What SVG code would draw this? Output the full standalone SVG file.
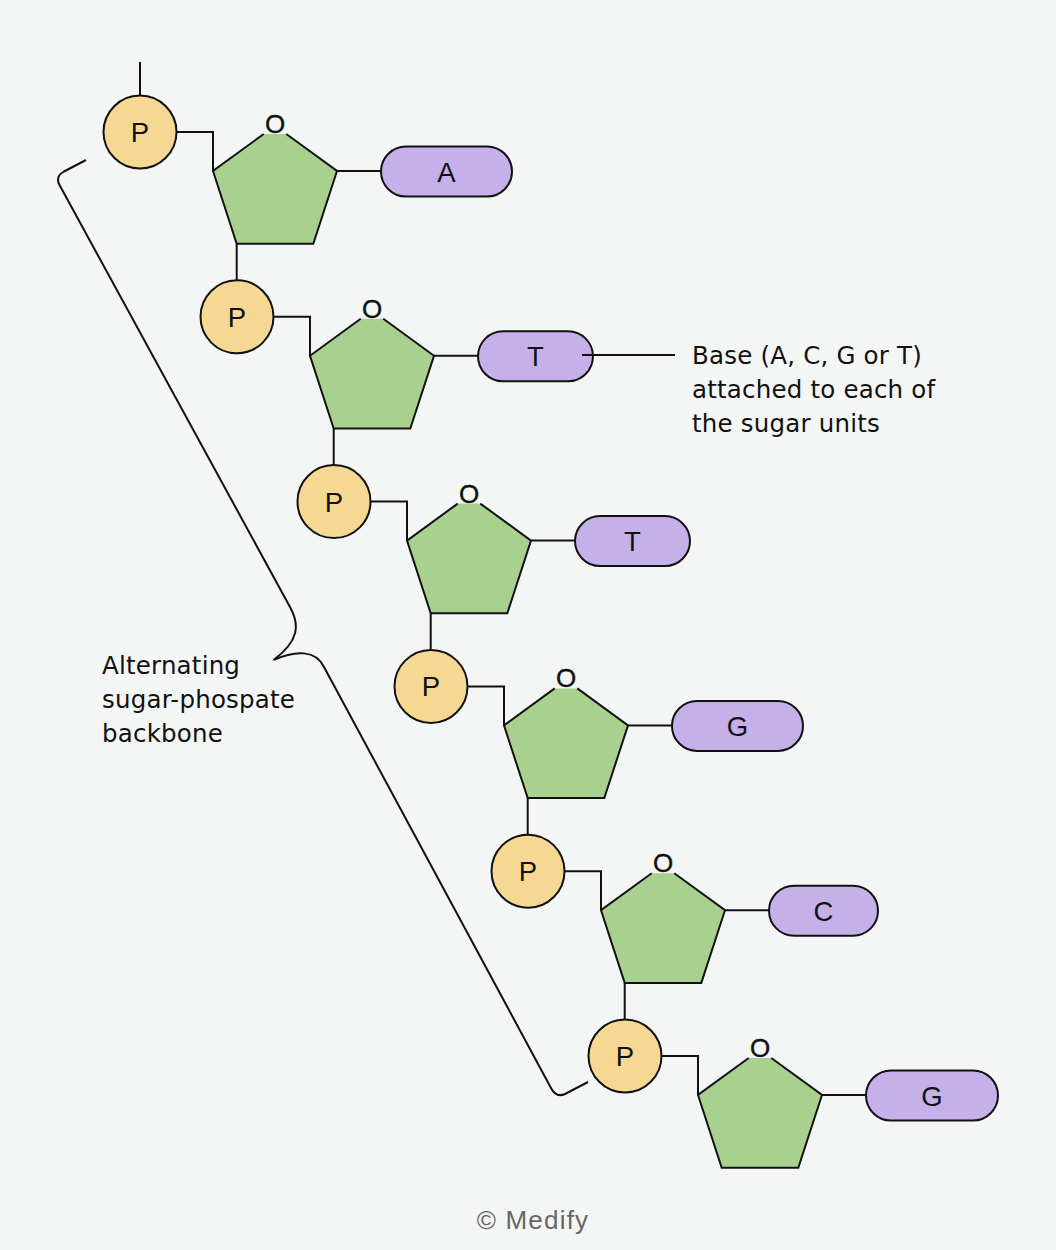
<svg xmlns="http://www.w3.org/2000/svg" width="1056" height="1250" viewBox="0 0 1056 1250">
<style>
.bg{fill:#f4f6f5}
.ln{fill:none;stroke:#111;stroke-width:2}
.phos{fill:#f6d892;stroke:#111;stroke-width:2}
.sugar{fill:#a8d18f;stroke:#111;stroke-width:2;stroke-linejoin:miter}
.base{fill:#c5b0ea;stroke:#111;stroke-width:2}
.t{font-family:"Liberation Sans",Arial,sans-serif;font-size:27.5px;fill:#111;text-anchor:middle}
.o{font-family:"Liberation Sans",Arial,sans-serif;font-size:26px;fill:#111;text-anchor:middle;stroke:#111;stroke-width:0.4px}
.lbl{font-family:"DejaVu Sans",sans-serif;font-size:24.5px;fill:#111;letter-spacing:0.2px}
.foot{font-family:"Liberation Sans",Arial,sans-serif;font-size:26px;fill:#666;text-anchor:middle;letter-spacing:1.2px}
</style>
<defs>
<path id="pent" d="M263.7,134 L213,171 L236.7,243.7 L313.3,243.7 L337,171 L286.3,134"/>
</defs>
<rect class="bg" x="0" y="0" width="1056" height="1250"/>

<g id="connectors">
<line class="ln" x1="140" y1="62" x2="140" y2="96"/>
<g id="links-1">
<polyline class="ln" points="176,132 213,132 213,171"/>
<line class="ln" x1="337" y1="171" x2="381" y2="171"/>
<line class="ln" x1="236.7" y1="243.7" x2="236.7" y2="282"/>
</g>
<g transform="translate(97,184.8)">
<polyline class="ln" points="176,132 213,132 213,171"/>
<line class="ln" x1="337" y1="171" x2="381" y2="171"/>
<line class="ln" x1="236.7" y1="243.7" x2="236.7" y2="282"/>
</g>
<g transform="translate(194,369.6)">
<polyline class="ln" points="176,132 213,132 213,171"/>
<line class="ln" x1="337" y1="171" x2="381" y2="171"/>
<line class="ln" x1="236.7" y1="243.7" x2="236.7" y2="282"/>
</g>
<g transform="translate(291,554.4)">
<polyline class="ln" points="176,132 213,132 213,171"/>
<line class="ln" x1="337" y1="171" x2="381" y2="171"/>
<line class="ln" x1="236.7" y1="243.7" x2="236.7" y2="282"/>
</g>
<g transform="translate(388,739.2)">
<polyline class="ln" points="176,132 213,132 213,171"/>
<line class="ln" x1="337" y1="171" x2="381" y2="171"/>
<line class="ln" x1="236.7" y1="243.7" x2="236.7" y2="282"/>
</g>
<g transform="translate(485,924)">
<polyline class="ln" points="176,132 213,132 213,171"/>
<line class="ln" x1="337" y1="171" x2="381" y2="171"/>
</g>
<path id="backbone-brace" class="ln" d="M86,160 L64,171.5 Q55,176.5 59.5,185 L290,607 C300,625 299,641 273.5,660 C296,650 316,650 324,667 L551,1088 Q556,1098 565,1094 L588,1082"/>
</g>

<g id="unit1">
<g id="phosphate1"><circle class="phos" cx="140" cy="132" r="36.5"/><text class="t" x="140" y="142">P</text></g>
<g id="sugar1"><use href="#pent" class="sugar"/><text class="o" x="275" y="133">O</text></g>
<g id="base1"><rect class="base" x="381" y="146.5" width="131" height="50" rx="25"/><text class="t" x="446.5" y="181.5">A</text></g>
</g>
<g id="unit2" transform="translate(97,184.8)">
<g id="phosphate2"><circle class="phos" cx="140" cy="132" r="36.5"/><text class="t" x="140" y="142">P</text></g>
<g id="sugar2"><use href="#pent" class="sugar"/><text class="o" x="275" y="133">O</text></g>
<g id="base2"><rect class="base" x="381" y="146.5" width="115" height="50" rx="25"/><text class="t" x="438.5" y="181.5">T</text></g>
</g>
<g id="unit3" transform="translate(194,369.6)">
<g id="phosphate3"><circle class="phos" cx="140" cy="132" r="36.5"/><text class="t" x="140" y="142">P</text></g>
<g id="sugar3"><use href="#pent" class="sugar"/><text class="o" x="275" y="133">O</text></g>
<g id="base3"><rect class="base" x="381" y="146.5" width="115" height="50" rx="25"/><text class="t" x="438.5" y="181.5">T</text></g>
</g>
<g id="unit4" transform="translate(291,554.4)">
<g id="phosphate4"><circle class="phos" cx="140" cy="132" r="36.5"/><text class="t" x="140" y="142">P</text></g>
<g id="sugar4"><use href="#pent" class="sugar"/><text class="o" x="275" y="133">O</text></g>
<g id="base4"><rect class="base" x="381" y="146.5" width="131" height="50" rx="25"/><text class="t" x="446.5" y="181.5">G</text></g>
</g>
<g id="unit5" transform="translate(388,739.2)">
<g id="phosphate5"><circle class="phos" cx="140" cy="132" r="36.5"/><text class="t" x="140" y="142">P</text></g>
<g id="sugar5"><use href="#pent" class="sugar"/><text class="o" x="275" y="133">O</text></g>
<g id="base5"><rect class="base" x="381" y="146.5" width="109" height="50" rx="25"/><text class="t" x="435.5" y="181.5">C</text></g>
</g>
<g id="unit6" transform="translate(485,924)">
<g id="phosphate6"><circle class="phos" cx="140" cy="132" r="36.5"/><text class="t" x="140" y="142">P</text></g>
<g id="sugar6"><use href="#pent" class="sugar"/><text class="o" x="275" y="133">O</text></g>
<g id="base6"><rect class="base" x="381" y="146.5" width="132" height="50" rx="25"/><text class="t" x="447" y="181.5">G</text></g>
</g>

<g id="base-label">
<line class="ln" x1="582" y1="355" x2="675" y2="355"/>
<text class="lbl" x="692" y="364">Base (A, C, G or T)</text>
<text class="lbl" x="692" y="398">attached to each of</text>
<text class="lbl" x="692" y="432">the sugar units</text>
</g>
<g id="backbone-label">
<text class="lbl" x="102" y="674">Alternating</text>
<text class="lbl" x="102" y="708">sugar-phospate</text>
<text class="lbl" x="102" y="742">backbone</text>
</g>
<text class="foot" x="533" y="1229">© Medify</text>
</svg>
